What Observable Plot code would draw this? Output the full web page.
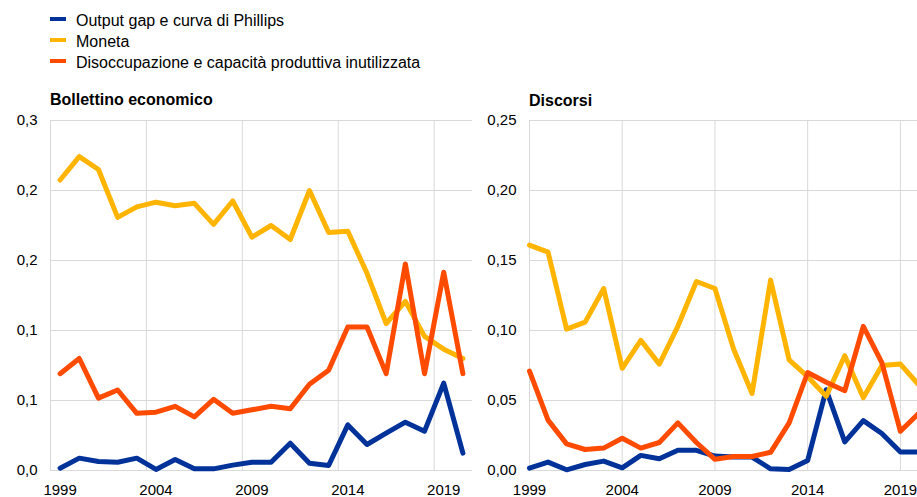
<!DOCTYPE html>
<html><head><meta charset="utf-8">
<script src="https://cdn.jsdelivr.net/npm/d3@7"></script>
<script src="https://cdn.jsdelivr.net/npm/@observablehq/plot@0.6"></script>
<style>
html,body{margin:0;padding:0;overflow:hidden;background:#fff;}
#root{position:relative;width:917px;height:497px;overflow:hidden;font-family:"Liberation Sans",Arial,sans-serif;color:#000;background:#fff;}
.row{position:absolute;left:76px;font-size:16px;line-height:21px;white-space:nowrap;}
.sw{position:absolute;left:50px;width:16px;height:4px;}
.title{position:absolute;font-size:16px;font-weight:bold;line-height:16px;white-space:nowrap;}
.panel{position:absolute;top:110px;}
.panel svg{font-family:"Liberation Sans",Arial,sans-serif;font-size:15px;}
.panel svg text{font-size:15px !important;font-family:"Liberation Sans",Arial,sans-serif !important;fill:#000;}
</style></head>
<body>
<div id="root">
  <div id="legend"></div>
  <div class="title" style="left:50px;top:92px;">Bollettino economico</div>
  <div class="title" style="left:529px;top:93px;">Discorsi</div>
  <div class="panel" id="left" style="left:0px;"></div>
  <div class="panel" id="right" style="left:470px;"></div>
</div>
<script>
// ---- data ----
const years = [1999,2000,2001,2002,2003,2004,2005,2006,2007,2008,2009,2010,2011,2012,2013,2014,2015,2016,2017,2018,2019,2020];
const seriesNames = ["Output gap e curva di Phillips", "Moneta", "Disoccupazione e capacità produttiva inutilizzata"];
const seriesColors = ["#003299", "#ffb400", "#ff4b00"];

// Bollettino economico
const bollOutputGap = [0.002,0.0106,0.0077,0.0071,0.0106,0.0009,0.0094,0.0014,0.0014,0.0046,0.0071,0.0071,0.0234,0.0063,0.0043,0.0391,0.0223,0.032,0.0414,0.0337,0.0749,0.0149];
const bollMoneta = [0.249,0.269,0.258,0.217,0.226,0.230,0.227,0.229,0.211,0.231,0.200,0.210,0.198,0.240,0.204,0.205,0.169,0.126,0.145,0.115,0.104,0.096];
const bollDisocc = [0.083,0.096,0.062,0.069,0.049,0.050,0.055,0.046,0.061,0.049,0.052,0.055,0.053,0.074,0.086,0.123,0.123,0.083,0.177,0.083,0.170,0.083];

// Discorsi
const discOutputGap = [0.0017,0.006,0.0005,0.0043,0.0067,0.0019,0.0108,0.0084,0.0144,0.0144,0.0103,0.0096,0.0096,0.0012,0.0007,0.0072,0.0577,0.0204,0.0356,0.0264,0.0132,0.0132];
const discMoneta = [0.161,0.156,0.101,0.106,0.130,0.073,0.093,0.076,0.103,0.135,0.130,0.087,0.055,0.136,0.079,0.067,0.053,0.082,0.052,0.075,0.076,0.061];
const discDisocc = [0.071,0.036,0.019,0.015,0.016,0.023,0.016,0.020,0.034,0.020,0.008,0.010,0.010,0.013,0.034,0.070,0.063,0.057,0.103,0.077,0.028,0.041];

// ticks
const yearTicks = [1999,2004,2009,2014,2019];
const bollYTicks = [0,0.06,0.12,0.18,0.24,0.30];
const discYTicks = [0,0.05,0.10,0.15,0.20,0.25];

// ---- legend ----
const legend = document.getElementById("legend");
seriesNames.forEach((name, i) => {
  const top = 10 + i * 21;
  const sw = document.createElement("div");
  sw.className = "sw";
  sw.style.top = (top + 7) + "px";
  sw.style.background = seriesColors[i];
  legend.appendChild(sw);
  const t = document.createElement("div");
  t.className = "row";
  t.style.top = top + "px";
  t.textContent = name;
  legend.appendChild(t);
});

function toRows(a, b, c) {
  const rows = [];
  [a, b, c].forEach((arr, s) => arr.forEach((v, i) => rows.push({year: years[i], value: v, series: seriesNames[s]})));
  return rows;
}
const comma = f => d => d3.format(f)(d).replace(".", ",");
const gridColor = "#d9d9d9";

function panel({rows, width, marginLeft, marginRight, xShift, xTicks, xFormat, yMax, yTicks, yFormat}) {
  return Plot.plot({
    width, height: 387,
    marginLeft, marginRight, marginTop: 10, marginBottom: 27,
    style: {background: "transparent", maxWidth: "none", overflow: "visible",
            fontFamily: '"Liberation Sans", Arial, sans-serif', fontSize: "15px", color: "#000"},
    x: {domain: [1999, 2021], ticks: xTicks, tickFormat: xFormat, tickSize: 0, tickPadding: 14, label: null},
    y: {domain: [0, yMax], ticks: yTicks, tickFormat: yFormat, tickSize: 0, tickPadding: 13, label: null},
    color: {domain: seriesNames, range: seriesColors},
    marks: [
      Plot.ruleY(yTicks, {stroke: gridColor, strokeWidth: 1}),
      Plot.ruleX(yearTicks, {stroke: gridColor, strokeWidth: 1}),
      Plot.line(rows, {x: d => d.year + xShift, y: "value", z: "series", stroke: "series",
                       strokeWidth: 5, strokeLinejoin: "round", strokeLinecap: "round"})
    ]
  });
}

document.getElementById("left").appendChild(panel({
  rows: toRows(bollOutputGap, bollMoneta, bollDisocc),
  width: 480, marginLeft: 50, marginRight: 8, xShift: 0.5,
  xTicks: yearTicks.map(y => y + 0.5), xFormat: d => String(Math.floor(d)),
  yMax: 0.3, yTicks: bollYTicks, yFormat: comma(".1f")
}));

document.getElementById("right").appendChild(panel({
  rows: toRows(discOutputGap, discMoneta, discDisocc),
  width: 480, marginLeft: 59, marginRight: 13, xShift: 0,
  xTicks: yearTicks, xFormat: d => String(d),
  yMax: 0.25, yTicks: discYTicks, yFormat: comma(".2f")
}));
</script>
</body></html>
